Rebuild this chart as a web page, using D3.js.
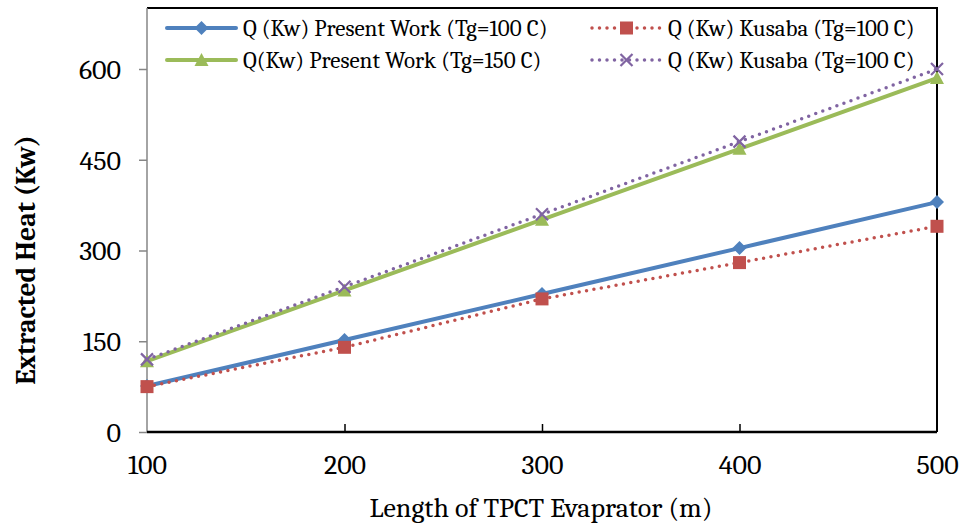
<!DOCTYPE html>
<html>
<head>
<meta charset="utf-8">
<script src="https://cdn.jsdelivr.net/npm/d3@7"></script>
<style>
  body { margin: 0; background: #fff; }
  text { font-family: Cambria, Caladea, "Liberation Serif", serif; fill: #000; }
</style>
</head>
<body>
<div id="chart-area"></div>
<script>
const lengths = [100, 200, 300, 400, 500];
const presentTg100 = [76, 152, 228, 304, 380];
const kusabaTg100 = [75, 140, 220, 280, 340];
const presentTg150 = [117, 234, 351, 468, 585];
const kusabaTg100b = [120, 240, 360, 480, 600];
const yTicks = [0, 150, 300, 450, 600];

const series = [
  { name: 'Q (Kw) Present Work (Tg=100 C)', values: presentTg100, color: '#4F81BD', dotted: false, marker: 'diamond' },
  { name: 'Q (Kw) Kusaba (Tg=100 C)', values: kusabaTg100, color: '#C0504D', dotted: true, marker: 'square' },
  { name: 'Q(Kw) Present Work (Tg=150 C)', values: presentTg150, color: '#9BBB59', dotted: false, marker: 'triangle' },
  { name: 'Q (Kw) Kusaba (Tg=100 C)', values: kusabaTg100b, color: '#8064A2', dotted: true, marker: 'cross' }
];

const W = 963, H = 525;
const margin = { left: 147, right: 26, top: 8, bottom: 93 };
const width = W - margin.left - margin.right,
  height = H - margin.top - margin.bottom;

const svg = d3.select('#chart-area')
  .append('svg')
  .attr('width', W)
  .attr('height', H);

const g = svg.append('g')
  .attr('transform', `translate(${margin.left},${margin.top})`);

const x = d3.scaleLinear().domain([100, 500]).range([0, width]);
// 600 sits at y=69 in the picture, the frame goes a bit higher
const y = d3.scaleLinear().domain([0, 600]).range([height, 61]);

// frame (top and right black)
g.append('path')
  .attr('d', `M0,0H${width}V${height}`)
  .attr('fill', 'none')
  .attr('stroke', '#000')
  .attr('stroke-width', 2);

// y axis
const yAxis = g.append('g')
  .call(d3.axisLeft(y).tickValues(yTicks).tickSize(8).tickPadding(18));
yAxis.select('.domain').remove();
yAxis.selectAll('.tick line').attr('stroke', '#868686').attr('stroke-width', 1.5);
yAxis.selectAll('.tick text')
  .style('font-size', '28px')
  .attr('dy', '0.33em');
g.append('line')
  .attr('x1', 0).attr('x2', 0)
  .attr('y1', 0).attr('y2', height)
  .attr('stroke', '#868686').attr('stroke-width', 1.5);

// x axis
const xAxis = g.append('g')
  .attr('transform', `translate(0,${height})`)
  .call(d3.axisBottom(x).tickValues(lengths).tickSize(0).tickPadding(22));
xAxis.select('.domain').remove();
xAxis.selectAll('.tick text').style('font-size', '28px');
xAxis.selectAll('.tick')
  .filter(d => d > 100 && d < 500)
  .append('line')
  .attr('y1', 0).attr('y2', -8)
  .attr('stroke', '#000').attr('stroke-width', 1.5);
g.append('line')
  .attr('x1', 0).attr('x2', width)
  .attr('y1', height).attr('y2', height)
  .attr('stroke', '#000').attr('stroke-width', 2.5);

// axis titles
svg.append('text')
  .attr('x', 541)
  .attr('y', 517)
  .attr('text-anchor', 'middle')
  .style('font-size', '28px')
  .text('Length of TPCT Evaprator (m)');

svg.append('text')
  .attr('transform', 'translate(35,260) rotate(-90)')
  .attr('text-anchor', 'middle')
  .style('font-size', '27.5px')
  .style('font-weight', 'bold')
  .text('Extracted Heat (Kw)');

function drawMarker(sel, type, color) {
  if (type === 'diamond') {
    sel.append('path').attr('d', 'M0,-7L7,0L0,7L-7,0Z').attr('fill', color);
  } else if (type === 'square') {
    sel.append('rect').attr('x', -6.5).attr('y', -6.5).attr('width', 13).attr('height', 13).attr('fill', color);
  } else if (type === 'triangle') {
    sel.append('path').attr('d', 'M0,-7L7,6L-7,6Z').attr('fill', color);
  } else {
    sel.append('path').attr('d', 'M-6,-6L6,6M-6,6L6,-6')
      .attr('stroke', color).attr('stroke-width', 2.2).attr('fill', 'none');
  }
}

const line = d3.line()
  .x((d, i) => x(lengths[i]))
  .y(d => y(d));

series.forEach(s => {
  g.append('path')
    .datum(s.values)
    .attr('fill', 'none')
    .attr('stroke', s.color)
    .attr('stroke-width', s.dotted ? 3.5 : 4)
    .attr('stroke-linecap', 'round')
    .attr('stroke-dasharray', s.dotted ? '0,7.5' : null)
    .attr('d', line);
  s.values.forEach((v, i) => {
    const m = g.append('g').attr('transform', `translate(${x(lengths[i])},${y(v)})`);
    drawMarker(m, s.marker, s.color);
  });
});

// legend
const legendPos = [[167, 28], [592, 28], [167, 60], [592, 60]];
series.forEach((s, i) => {
  const [lx, ly] = legendPos[i];
  const lg = svg.append('g').attr('transform', `translate(${lx},${ly})`);
  lg.append('line')
    .attr('x1', 0).attr('x2', 69)
    .attr('stroke', s.color)
    .attr('stroke-width', s.dotted ? 3.5 : 4)
    .attr('stroke-linecap', 'round')
    .attr('stroke-dasharray', s.dotted ? '0,7.5' : null);
  drawMarker(lg.append('g').attr('transform', 'translate(34.5,0)'), s.marker, s.color);
  lg.append('text')
    .attr('x', 76)
    .attr('dy', '0.33em')
    .style('font-size', '23px')
    .text(s.name);
});
</script>
</body>
</html>
